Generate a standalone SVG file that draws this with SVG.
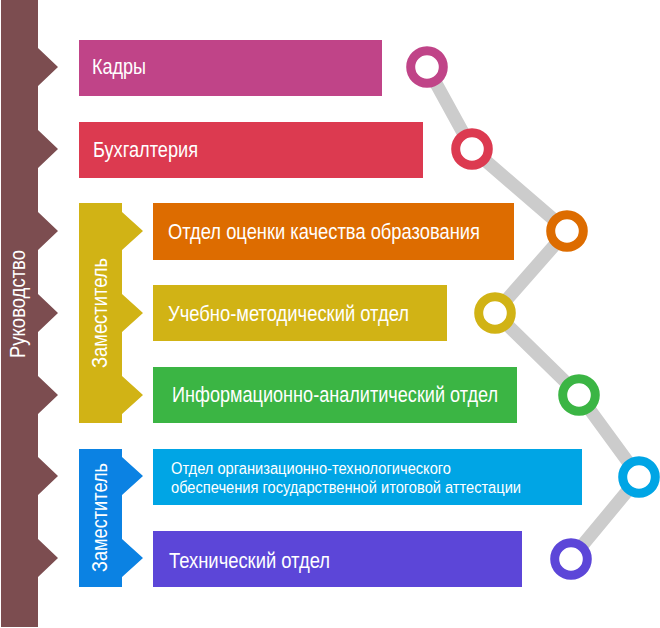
<svg xmlns="http://www.w3.org/2000/svg" width="660" height="628" viewBox="0 0 660 628">
<style>
text{font-family:"Liberation Sans",Arial,sans-serif;fill:#fff;font-size:22px}
.sm{font-size:16px}
.line{fill:none;stroke:#cccccc;stroke-width:13;stroke-linejoin:miter}
.ring{fill:#fff;stroke-width:9}
</style>
<rect width="660" height="628" fill="#fff"/>
<g id="connectors">
<polyline class="line" points="427,67 472,149 567,231 495,313 579,395 639,477 571,559"/>
</g>
<g id="rukovodstvo">
<path fill="#7c4d50" d="M1,0 H38 V48 L58,67 L38,86 V130 L58,149 L38,168 V212 L58,231 L38,250 V294 L58,313 L38,332 V376 L58,395 L38,414 V457 L58,476 L38,495 V539 L58,558 L38,577 V627 H1 Z"/>
<text transform="translate(25,358) rotate(-90)" textLength="108" lengthAdjust="spacingAndGlyphs">Руководство</text>
</g>
<g id="kadry">
<rect x="79" y="40" width="303" height="56" fill="#c04488"/>
<text x="92" y="74" textLength="54" lengthAdjust="spacingAndGlyphs">Кадры</text>
<circle class="ring" cx="427" cy="67" r="16.3" stroke="#c04488"/>
</g>
<g id="buh">
<rect x="79" y="122" width="344" height="56" fill="#dc3a50"/>
<text x="93" y="157" textLength="105" lengthAdjust="spacingAndGlyphs">Бухгалтерия</text>
<circle class="ring" cx="472" cy="149" r="16.3" stroke="#dc3a50"/>
</g>
<g id="zam1">
<path fill="#d1b315" d="M79,203 H122 V212 L143,231 L122,250 V294 L143,313 L122,332 V376 L143,395 L122,414 V423 H79 Z"/>
<text transform="translate(107,368) rotate(-90)" textLength="110" lengthAdjust="spacingAndGlyphs">Заместитель</text>
</g>
<g id="ocenka">
<rect x="153" y="203" width="361" height="57" fill="#dd6c00"/>
<text x="168" y="239" textLength="312" lengthAdjust="spacingAndGlyphs">Отдел оценки качества образования</text>
<circle class="ring" cx="567" cy="231" r="16.3" stroke="#dd6c00"/>
</g>
<g id="umo">
<rect x="153" y="285" width="294" height="56" fill="#d1b315"/>
<text x="168" y="321" textLength="241" lengthAdjust="spacingAndGlyphs">Учебно-методический отдел</text>
<circle class="ring" cx="495" cy="313" r="16.3" stroke="#d1b315"/>
</g>
<g id="iao">
<rect x="153" y="367" width="364" height="56" fill="#3bb544"/>
<text x="172" y="402" textLength="326" lengthAdjust="spacingAndGlyphs">Информационно-аналитический отдел</text>
<circle class="ring" cx="579" cy="395" r="16.3" stroke="#3bb544"/>
</g>
<g id="zam2">
<path fill="#0b82e3" d="M79,449 H122 V457 L143,476 L122,495 V539 L143,558 L122,577 V587 H79 Z"/>
<text transform="translate(107,572) rotate(-90)" textLength="109" lengthAdjust="spacingAndGlyphs">Заместитель</text>
</g>
<g id="gia">
<rect x="153" y="449" width="429" height="56" fill="#00a5e5"/>
<text class="sm" x="171" y="474" textLength="280" lengthAdjust="spacingAndGlyphs">Отдел организационно-технологического</text>
<text class="sm" x="171" y="493" textLength="350" lengthAdjust="spacingAndGlyphs">обеспечения государственной итоговой аттестации</text>
<circle class="ring" cx="639" cy="477" r="16.3" stroke="#00a5e5"/>
</g>
<g id="tech">
<rect x="153" y="531" width="369" height="56" fill="#5c46d8"/>
<text x="169" y="568" textLength="161" lengthAdjust="spacingAndGlyphs">Технический отдел</text>
<circle class="ring" cx="571" cy="559" r="16.3" stroke="#5c46d8"/>
</g>
</svg>
